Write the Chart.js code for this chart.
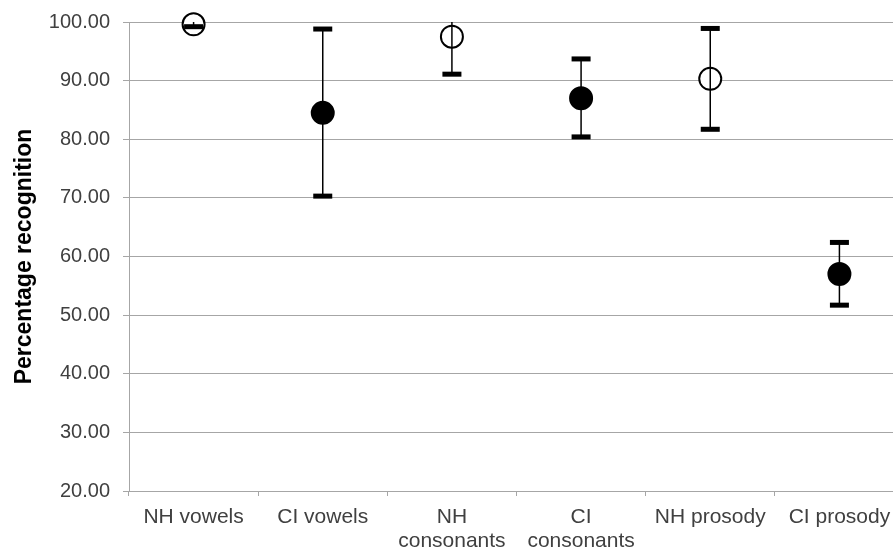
<!DOCTYPE html>
<html>
<head>
<meta charset="utf-8">
<script src="https://cdn.jsdelivr.net/npm/chart.js@4.4.1/dist/chart.umd.min.js"></script>
<style>
  html, body { margin: 0; padding: 0; background: #fff; overflow: hidden; }
  canvas { display: block; }
</style>
</head>
<body>
<canvas id="grafico" width="904" height="551"></canvas>
<script>
// Datos
const categorias = ['NH vowels', 'CI vowels', ['NH', 'consonants'], ['CI', 'consonants'], 'NH prosody', 'CI prosody'];
const medias = [99.6, 84.5, 97.5, 87.0, 90.3, 57.0];
const limiteSuperior = [100.4, 98.8, 103.9, 93.7, 98.9, 62.4];
const limiteInferior = [99.2, 70.3, 91.1, 80.4, 81.7, 51.7];
const rellenos = ['#ffffff', '#000000', '#ffffff', '#000000', '#ffffff', '#000000'];

const ejeMin = 20;
const ejeMax = 100;

// Plugin para dibujar las barras de error (encima de los puntos, como en Excel)
const barrasError = {
    id: 'barrasError',
    afterDatasetsDraw(chart) {
        const ctx = chart.ctx;
        const x = chart.scales.x;
        const y = chart.scales.y;
        ctx.save();
        medias.forEach((m, i) => {
            const px = x.getPixelForValue(i);
            const alto = Math.min(limiteSuperior[i], ejeMax);
            const bajo = Math.max(limiteInferior[i], ejeMin);
            const yTop = y.getPixelForValue(alto);
            const yBot = y.getPixelForValue(bajo);
            ctx.strokeStyle = '#000';
            ctx.lineWidth = 1.5;
            ctx.beginPath();
            ctx.moveTo(px, yTop);
            ctx.lineTo(px, yBot);
            ctx.stroke();
            ctx.fillStyle = '#000';
            // tapas (solo si no se recorta en el eje)
            if (limiteSuperior[i] <= ejeMax) ctx.fillRect(px - 9.5, yTop - 2.5, 19, 5);
            if (limiteInferior[i] >= ejeMin) ctx.fillRect(px - 9.5, yBot - 2.5, 19, 5);
        });
        ctx.restore();
    }
};

const ctx = document.getElementById('grafico').getContext('2d');
Chart.defaults.font.family = "'Liberation Sans', Arial, sans-serif";

new Chart(ctx, {
    type: 'line',
    data: {
        labels: categorias,
        datasets: [{
            data: medias,
            showLine: false,
            clip: false,
            pointRadius: 11,
            pointHoverRadius: 11,
            pointBorderWidth: 2,
            pointBorderColor: '#000',
            pointBackgroundColor: rellenos
        }]
    },
    options: {
        responsive: false,
        animation: false,
        events: [],
        layout: { autoPadding: false, padding: { top: 22, left: 0, right: 0, bottom: 0 } },
        plugins: { legend: { display: false }, tooltip: { enabled: false } },
        scales: {
            x: {
                offset: true,
                grid: { offset: true, drawOnChartArea: false, drawTicks: true, tickLength: 5, color: '#a6a6a6' },
                border: { color: '#a6a6a6', width: 1 },
                ticks: { color: '#404040', font: { size: 21, lineHeight: 1.15 }, padding: 9, maxRotation: 0, autoSkip: false },
                afterFit: scale => { scale.height = 60; }
            },
            y: {
                min: ejeMin,
                max: ejeMax,
                grid: { color: '#a6a6a6', tickLength: 6 },
                border: { color: '#a6a6a6', width: 1 },
                ticks: {
                    stepSize: 10,
                    color: '#404040',
                    font: { size: 20 },
                    padding: 13,
                    callback: v => v.toFixed(2)
                },
                title: {
                    display: true,
                    text: 'Percentage recognition',
                    color: '#000',
                    font: { size: 23, weight: 'bold', lineHeight: 1.2 },
                    padding: { top: 11, bottom: 0 }
                },
                afterFit: scale => {
                    scale.width = 129;
                    scale.paddingTop = 0;
                    scale.paddingBottom = 0;
                }
            }
        }
    },
    plugins: [barrasError]
});
</script>
</body>
</html>
